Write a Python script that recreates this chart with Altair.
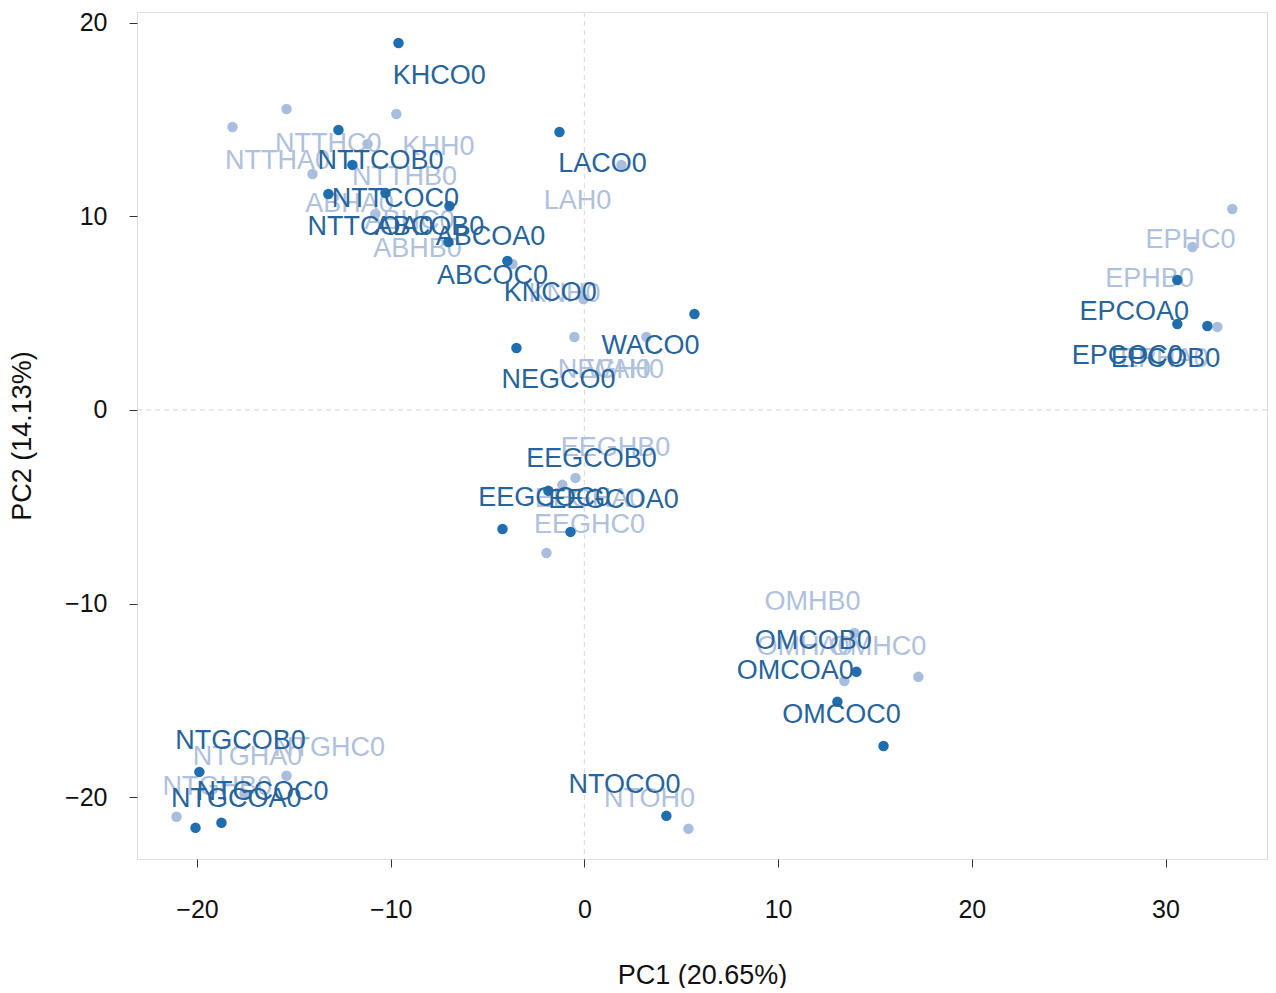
import altair as alt
import pandas as pd

# Dark group (CO samples): point positions and label positions (data units)
co_names = ["KHCO0", "NTTCOB0", "NTTCOC0", "NTTCOA0", "ABCOB0", "ABCOA0", "ABCOC0",
            "KNCO0", "LACO0", "WACO0", "NEGCO0",
            "EEGCOB0", "EEGCOC0", "EEGCOA0",
            "EPCOA0", "EPCOC0", "EPCOB0",
            "OMCOB0", "OMCOA0", "OMCOC0",
            "NTGCOB0", "NTGCOC0", "NTGCOA0", "NTOCO0"]
co_pc1 = [-9.60, -12.70, -11.98, -13.22, -10.27, -6.97, -7.02,
          -3.98, -1.29, 5.68, -3.51,
          -1.86, -4.23, -0.72,
          30.61, 30.61, 32.16,
          14.04, 13.06, 15.44,
          -19.88, -20.08, -18.74, 4.23]
co_pc2 = [18.96, 14.46, 12.66, 11.16, 11.21, 10.54, 8.68,
          7.70, 14.36, 4.96, 3.20,
          -4.18, -6.15, -6.30,
          6.71, 4.44, 4.34,
          -13.53, -15.08, -17.36,
          -18.70, -21.59, -21.33, -20.97]
co_lab_x = [-7.49, -10.53, -9.76, -11.05, -8.00, -4.85, -4.75,
            -1.76, 0.93, 3.41, -1.34,
            0.36, -2.07, 1.50,
            28.39, 28.03, 30.00,
            11.82, 10.89, 13.27,
            -17.76, -16.62, -17.97, 2.07]
co_lab_y = [17.25, 12.86, 10.90, 9.45, 9.45, 8.94, 6.92,
            6.04, 12.71, 3.31, 1.55,
            -2.53, -4.55, -4.65,
            5.06, 2.79, 2.63,
            -11.93, -13.48, -15.75,
            -17.10, -19.73, -20.09, -19.37]

# Light group (H samples)
h_names = ["NTTHA0", "NTTHC0", "KHH0", "NTTHB0", "ABHA0", "ABHC0", "ABHB0",
           "LAH0", "KNH0", "NEGH0", "WAH0",
           "EEGHB0", "EEGHA0", "EEGHC0",
           "EPHC0", "EPHB0", "EPHA0",
           "OMHB0", "OMHA0", "OMHC0",
           "NTGHC0", "NTGHA0", "NTGHB0", "NTOH0"]
h_pc1 = [-18.17, -15.38, -9.71, -11.20, -14.04, -10.79, -3.72,
         1.91, -0.05, -0.52, 3.20,
         -0.46, -1.14, -1.96,
         33.45, 31.39, 32.68,
         13.94, 13.42, 17.24,
         -15.38, -17.55, -21.06, 5.37]
h_pc2 = [14.62, 15.55, 15.29, 13.74, 12.19, 10.12, 7.54,
         12.66, 5.73, 3.77, 3.77,
         -3.51, -3.87, -7.39,
         10.38, 8.42, 4.29,
         -11.52, -14.00, -13.79,
         -18.90, -19.83, -21.02, -21.64]
h_lab_x = [-15.85, -13.22, -7.54, -9.29, -12.13, -9.03, -8.62,
           -0.36, -1.03, 1.03, 2.12,
           1.60, 0.26, 0.26,
           31.29, 29.17, 29.94,
           11.77, 11.36, 15.13,
           -13.16, -17.40, -18.95, 3.36]
h_lab_y = [12.86, 13.74, 13.58, 12.04, 10.64, 9.76, 8.32,
           10.80, 5.99, 2.07, 2.07,
           -1.96, -4.60, -5.94,
           8.78, 6.77, 2.63,
           -9.92, -12.24, -12.24,
           -17.46, -17.92, -19.47, -20.09]

x_ticks = [-20, -10, 0, 10, 20, 30]
y_ticks = [-20, -10, 0, 10, 20]

co = pd.DataFrame({"name": co_names, "PC1": co_pc1, "PC2": co_pc2,
                   "lx": co_lab_x, "ly": co_lab_y})
hh = pd.DataFrame({"name": h_names, "PC1": h_pc1, "PC2": h_pc2,
                   "lx": h_lab_x, "ly": h_lab_y})

DARK_PT = "#1F6FB0"
DARK_TX = "#27649C"
LIGHT_PT = "#A9BEDD"
LIGHT_TX = "#AFC1DD"

xs = alt.Scale(domain=[-23.1, 35.24], nice=False, zero=False)
ys = alt.Scale(domain=[-23.2, 20.56], nice=False, zero=False)

xax = alt.Axis(values=x_ticks, title="PC1 (20.65%)", grid=False, domain=False,
               tickSize=8, tickColor="#333", labelPadding=30, titlePadding=40,
               labelFontSize=25, titleFontSize=27, labelFont="Liberation Sans",
               titleFont="Liberation Sans", titleFontWeight="normal",
               labelColor="#111", titleColor="#111")
yax = alt.Axis(values=y_ticks, title="PC2 (14.13%)", grid=False, domain=False,
               tickSize=8, tickColor="#333", labelPadding=22, titlePadding=28,
               labelFontSize=25, titleFontSize=27, labelFont="Liberation Sans",
               titleFont="Liberation Sans", titleFontWeight="normal",
               labelColor="#111", titleColor="#111")

zero_df = pd.DataFrame({"v": [0]})
vrule = alt.Chart(zero_df).mark_rule(color="#DDDDDD", strokeDash=[5, 4], strokeWidth=1.2).encode(
    x=alt.X("v:Q", scale=xs, axis=xax))
hrule = alt.Chart(zero_df).mark_rule(color="#DDDDDD", strokeDash=[5, 4], strokeWidth=1.2).encode(
    y=alt.Y("v:Q", scale=ys, axis=yax))

def pts(df, color):
    return alt.Chart(df).mark_circle(size=110, opacity=1, color=color).encode(
        x=alt.X("PC1:Q", scale=xs, axis=xax), y=alt.Y("PC2:Q", scale=ys, axis=yax))

def labs(df, color):
    return alt.Chart(df).mark_text(fontSize=27, font="Liberation Sans", color=color,
                                   baseline="middle", align="center").encode(
        x=alt.X("lx:Q", scale=xs, axis=xax), y=alt.Y("ly:Q", scale=ys, axis=yax),
        text="name:N")

chart = alt.layer(
    vrule, hrule,
    pts(hh, LIGHT_PT), labs(hh, LIGHT_TX),
    pts(co, DARK_PT), labs(co, DARK_TX),
).properties(width=1130, height=847,
             padding={"left": 0, "top": 2, "right": 0, "bottom": 0}).configure_view(
    stroke="#707070", strokeWidth=1.5).configure(background="white")

chart.save("out.html", embed_options={"renderer": "svg", "actions": False})
